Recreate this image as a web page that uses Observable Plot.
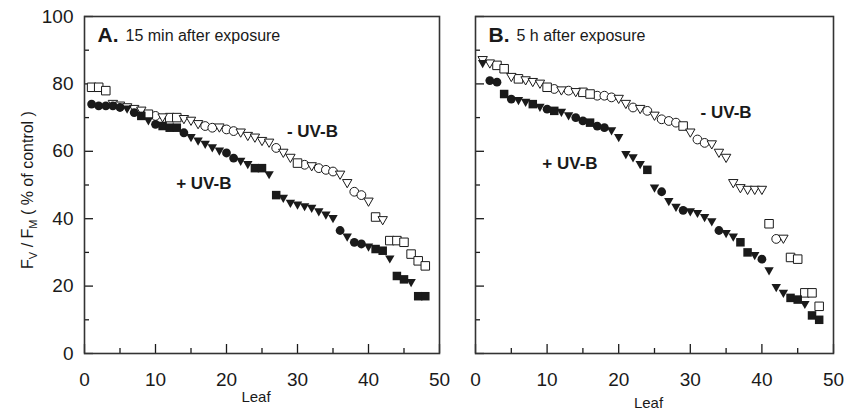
<!DOCTYPE html>
<html><head><meta charset="utf-8">
<script src="https://cdn.jsdelivr.net/npm/d3@7"></script>
<script src="https://cdn.jsdelivr.net/npm/@observablehq/plot@0.6"></script>
<style>
body{margin:0;background:#fff;}
#wrap{position:relative;width:845px;height:412px;font-family:"Liberation Sans",Arial,sans-serif;}
#wrap svg{position:absolute;top:0;overflow:visible;}
</style></head><body><div id="wrap"></div>
<script>
// ---- data (leaf rank = position in array, 1-based) ----
// Panel A: 15 min after exposure
const aPlusValues  = [74,73.5,73.5,73.5,73,72.5,71.5,70.5,69,68,67.5,67,67,65.5,64,63,62,61,60,59.5,58,57,56,55,55,53,47,46,44.5,44,43.5,43,42,41,40,36.5,34.5,33,32.5,31.5,31,30.5,28,23,22,21,17,17];
const aPlusShapes  = ["c","c","c","c","c","t","c","s","t","c","s","s","s","c","t","t","t","t","t","c","c","t","t","s","s","t","s","t","t","t","t","t","t","t","t","c","t","c","c","t","s","s","t","s","s","t","s","s"];
const aMinusValues = [79,79,78,74,73.5,73,72.5,72,71,70.5,70,70,70,69.5,69,68,67.5,67,67,66.5,66,65.5,64.5,64,63,62.5,61,59.5,58,56.5,56,55.5,55,54.5,54,53,50.5,48,47,45,40.5,39.5,33.5,33.5,33,29.5,27.5,26];
const aMinusShapes = ["s","s","s","t","t","t","t","t","s","c","t","s","s","t","t","t","c","c","t","c","c","t","t","t","t","t","c","t","t","s","c","t","c","c","c","t","t","c","c","t","s","t","s","s","s","s","s","s"];
// Panel B: 5 h after exposure
const bPlusValues  = [86,81,80.5,77,75.5,75,74.5,74,73,72.5,72,71.5,70.5,70,69,68.5,67.5,67,66,64,59,58,56,54.5,49,48,45,43.3,42.5,42,41.5,40.3,39,36.5,35.5,34.5,33,30,29,28,24.5,19.5,17.8,16.5,16,14.5,11.3,10];
const bPlusShapes  = ["t","c","c","s","c","t","t","s","t","c","s","t","t","c","c","s","c","c","t","t","t","t","t","s","t","c","t","t","c","t","t","t","t","c","t","t","s","s","t","c","t","t","t","s","s","t","s","s"];
const bMinusValues = [87,86,85.5,84.5,82,81.5,81,80.5,80,79,78.5,78,78,77.5,77.5,77,76.5,76.5,76,75.5,74,73,72.5,72,70.5,69.5,69,68.5,67.5,65.5,63.5,62.5,62,59.5,58,50.5,49,48.5,48.5,48.5,38.5,34,34,28.5,28,18,18,14];
const bMinusShapes = ["t","t","s","s","t","s","t","t","t","s","c","t","c","t","s","s","c","c","c","t","t","c","t","c","t","c","c","c","s","t","c","c","t","t","t","t","t","t","t","t","s","c","t","s","s","s","s","s"];

const xTicksMajor = [0,10,20,30,40,50];
const xTicksMinor = [5,15,25,35,45];
const yTicksMajor = [0,20,40,60,80,100];
const yTicksMinor = [10,30,50,70,90];
const panelLetters = ["A.","B."];
const panelSubtitles = ["15 min after exposure","5 h after exposure"];
const treatmentLabels = ["- UV-B","+ UV-B"];
const xLabel = "Leaf";

// ---- helpers ----
const rows = (vals, shapes) => vals.map((v,i)=>({leaf:i+1, value:v, shape:shapes[i]}));
const triDown = { draw(ctx, size){ const r = Math.sqrt(size/Math.PI); ctx.moveTo(-r, -0.8*r); ctx.lineTo(r, -0.8*r); ctx.lineTo(0, 0.95*r); ctx.closePath(); } };
const symbolOf = {c:"circle", s:"square", t:triDown};
const radiusOf = {c:4.4, s:4.8, t:4.7};
const INK = "#1a1a1a";
const H = 412, MT = 16, MB = 59;

function dots(data, filled){
  return Object.keys(symbolOf).map(k => Plot.dot(data.filter(d=>d.shape===k), {
    x:"leaf", y:"value", symbol: symbolOf[k], r: radiusOf[k],
    fill: filled ? INK : "white", stroke: filled ? "none" : INK, strokeWidth: 1
  }));
}

function panel({width, mL, mR, plus, minus, idx, showY, minusPos, plusPos}){
  const plotW = width - mL - mR, plotH = H - MT - MB;
  return Plot.plot({
    width, height: H, marginLeft: mL, marginRight: mR, marginTop: MT, marginBottom: MB,
    x:{domain:[0,50], axis:null}, y:{domain:[0,100], axis:null},
    style:{fontFamily:'"Liberation Sans", Arial, sans-serif', color: INK, background:"transparent", overflow:"visible"},
    marks:[
      Plot.axisX(xTicksMajor, {tickSize:0, tickPadding:19, fontSize:19, label:null}),
      showY ? Plot.axisY(yTicksMajor, {tickSize:0, tickPadding:11, fontSize:19, label:null}) : null,
      Plot.tickX(xTicksMajor, {x:d=>d, insetTop: plotH-9, stroke:INK, strokeWidth:1.3}),
      Plot.tickX(xTicksMinor, {x:d=>d, insetTop: plotH-5, stroke:INK, strokeWidth:1.3}),
      Plot.tickY(yTicksMajor, {y:d=>d, insetRight: plotW-9, stroke:INK, strokeWidth:1.3}),
      Plot.tickY(yTicksMinor, {y:d=>d, insetRight: plotW-5, stroke:INK, strokeWidth:1.3}),
      Plot.frame({stroke:"#333", strokeWidth:1.6}),
      ...dots(minus, false),
      ...dots(plus, true),
      Plot.text([panelLetters[idx]], {text:d=>d, frameAnchor:"top-left", dx:13, dy:19, textAnchor:"start", lineAnchor:"middle", fontSize:21, fontWeight:"bold", fill:INK}),
      Plot.text([panelSubtitles[idx]], {text:d=>d, frameAnchor:"top-left", dx:41, dy:19, textAnchor:"start", lineAnchor:"middle", fontSize:16, fill:INK}),
      Plot.text([treatmentLabels[0]], {text:d=>d, x:minusPos[0], y:minusPos[1], fontSize:17, fontWeight:"bold", fill:INK}),
      Plot.text([treatmentLabels[1]], {text:d=>d, x:plusPos[0], y:plusPos[1], fontSize:17, fontWeight:"bold", fill:INK}),
      Plot.text([xLabel], {text:d=>d, frameAnchor:"bottom", dx:-6, dy: idx===0 ? 44 : 50, lineAnchor:"middle", fontSize:15, fill:INK})
    ]
  });
}

const wrap = document.getElementById("wrap");
const svgA = panel({width:455, mL:84, mR:16, plus:rows(aPlusValues,aPlusShapes), minus:rows(aMinusValues,aMinusShapes), idx:0, showY:true, minusPos:[32.1,65.9], plusPos:[16.8,50.4]});
svgA.style.left = "0px";
const svgB = panel({width:390, mL:20, mR:12, plus:rows(bPlusValues,bPlusShapes), minus:rows(bMinusValues,bMinusShapes), idx:1, showY:false, minusPos:[35,71.5], plusPos:[13.2,56.4]});
svgB.style.left = "455px";
wrap.appendChild(svgA);
wrap.appendChild(svgB);

// y-axis title with subscripts
const t = d3.select(svgA).append("text")
  .attr("transform","translate(33,190) rotate(-90)")
  .attr("text-anchor","middle").attr("font-size",16).attr("fill",INK)
  .attr("font-family",'"Liberation Sans", Arial, sans-serif');
t.append("tspan").text("F");
t.append("tspan").attr("font-size",11).attr("dy",4).text("V");
t.append("tspan").attr("dy",-4).text(" / F");
t.append("tspan").attr("font-size",11).attr("dy",4).text("M");
t.append("tspan").attr("dy",-4).text(" ( % of control )");
</script></body></html>
